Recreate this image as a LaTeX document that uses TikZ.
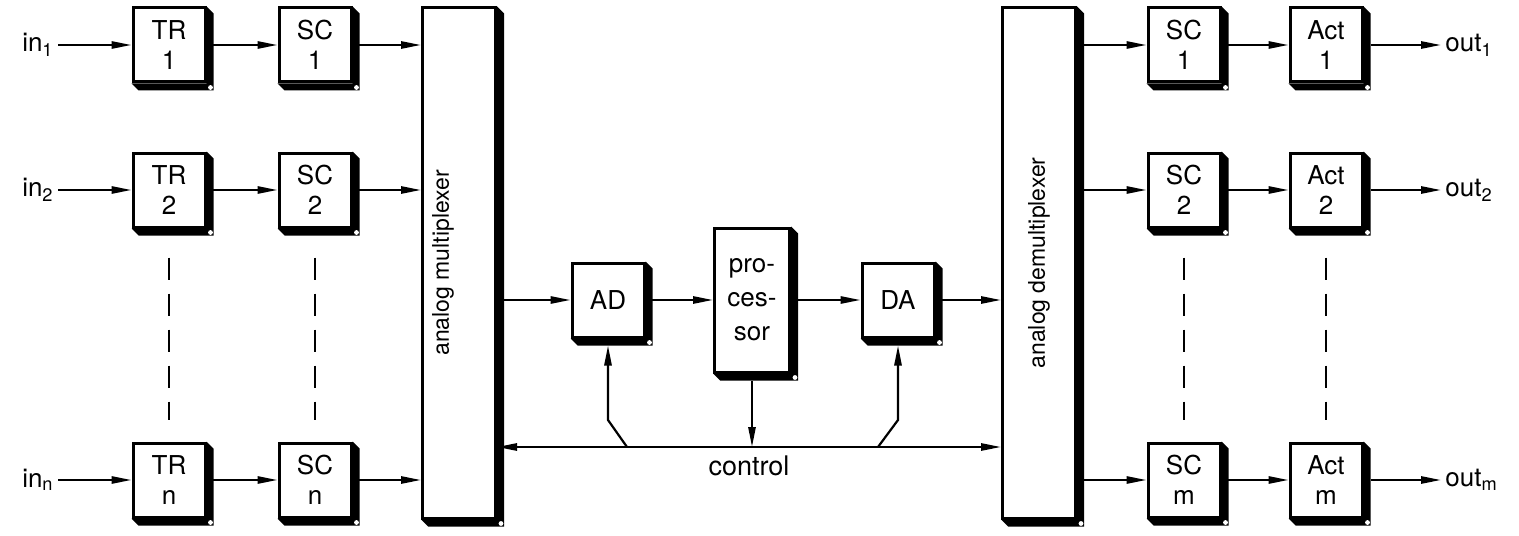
\documentclass[tikz,border=0pt]{standalone}
\usepackage{fontspec}
\setmainfont{TeX Gyre Heros}
\usetikzlibrary{arrows.meta}

\begin{document}
\begin{tikzpicture}[
    x=0.5pt, y=-0.5pt,
    >={Triangle[length=10pt, width=3.6pt]},
    blk/.style={rectangle, draw, line width=1.5pt, fill=white, minimum width=36pt, minimum height=37pt, align=center, inner sep=1pt, font=\fontsize{13}{15}\selectfont},
    tall/.style={blk, minimum width=36.5pt, minimum height=255pt},
    lbl/.style={inner sep=2pt, font=\fontsize{13}{15}\selectfont},
    vlbl/.style={inner sep=0pt, rotate=90, font=\fontsize{11.5}{13}\selectfont},
    sig/.style={draw, line width=1.1pt, ->},
    dots/.style={draw, line width=1pt, dash pattern=on 11pt off 7pt, shorten <=14.5pt, shorten >=11pt}
  ]
  \useasboundingbox (0,0) rectangle (1519,535);

  % input side
  \node[lbl, anchor=east] (in1) at (58,45) {in\textsubscript{1}};
  \node[lbl, anchor=east] (in2) at (58,190) {in\textsubscript{2}};
  \node[lbl, anchor=east] (inn) at (58,480) {in\textsubscript{n}};
  \node[blk] (tr1) at (169,45) {TR\\1};
  \node[blk] (tr2) at (169,190) {TR\\2};
  \node[blk] (trn) at (169,480) {TR\\n};
  \node[blk] (sc1) at (315,45) {SC\\1};
  \node[blk] (sc2) at (315,190) {SC\\2};
  \node[blk] (scn) at (315,480) {SC\\n};
  \node[tall, label={[vlbl, yshift=8pt]center:analog multiplexer}] (mux) at (459,263) {};

  % converters and processor
  \node[blk] (ad) at (608,300) {AD};
  \node[blk, minimum width=37.5pt, minimum height=72pt, font=\fontsize{13}{17}\selectfont] (proc) at (752,300) {pro-\\ces-\\sor};
  \node[blk] (da) at (898,300) {DA};
  \coordinate (ctl) at (752,447);
  \coordinate (adc) at (627,447);
  \coordinate (dac) at (878,447);
  \node[lbl, font=\fontsize{13.5}{15}\selectfont] (ctltxt) at (749,466) {control};

  % output side
  \node[tall, label={[vlbl]center:analog demultiplexer}] (demux) at (1039,263) {};
  \node[blk] (sco1) at (1184,45) {SC\\1};
  \node[blk] (sco2) at (1184,190) {SC\\2};
  \node[blk] (scom) at (1184,480) {SC\\m};
  \node[blk] (act1) at (1326,45) {Act\\1};
  \node[blk] (act2) at (1326,190) {Act\\2};
  \node[blk] (actm) at (1326,480) {Act\\m};
  \node[lbl, anchor=west] (out1) at (1441,45) {out\textsubscript{1}};
  \node[lbl, anchor=west] (out2) at (1441,190) {out\textsubscript{2}};
  \node[lbl, anchor=west] (outm) at (1441,480) {out\textsubscript{m}};

  % shadows
  \foreach \n in {tr1,tr2,trn,sc1,sc2,scn,mux,ad,proc,da,demux,sco1,sco2,scom,act1,act2,actm} {
    \fill (\n.north east) -- ++(7,7) -- ([shift={(7,7)}]\n.south east) -- ([shift={(7,7)}]\n.south west) -- (\n.south west) -- (\n.south east) -- cycle;
    \fill[white] ([shift={(4,4)}]\n.south east) circle (1.2pt);
  }

  \draw[sig] (in1) -- (tr1);
  \draw[sig] (in2) -- (tr2);
  \draw[sig] (inn) -- (trn);
  \draw[sig] (tr1) -- (sc1);
  \draw[sig] (tr2) -- (sc2);
  \draw[sig] (trn) -- (scn);
  \draw[sig] (sc1) -- (sc1 -| mux.west);
  \draw[sig] (sc2) -- (sc2 -| mux.west);
  \draw[sig] (scn) -- (scn -| mux.west);
  \draw[dots] (tr2.south) -- (trn.north);
  \draw[dots] (sc2.south) -- (scn.north);

  \draw[sig] (mux.east |- ad) -- (ad);
  \draw[sig] (ad) -- (proc);
  \draw[sig] (proc) -- (da);
  \draw[sig] (da) -- (da -| demux.west);
  \draw[sig, <->] (mux.east |- ctl) -- (demux.west |- ctl);
  \draw[sig] ([yshift=-3.5pt]proc.south) -- (ctl);
  \draw[sig, shorten >=3.5pt] (adc) -- ++(-19,-27) -- (ad.south);
  \draw[sig, shorten >=3.5pt] (dac) -- ++(20,-27) -- (da.south);

  \draw[sig] (sco1 -| demux.east) -- (sco1);
  \draw[sig] (sco2 -| demux.east) -- (sco2);
  \draw[sig] (scom -| demux.east) -- (scom);
  \draw[sig] (sco1) -- (act1);
  \draw[sig] (sco2) -- (act2);
  \draw[sig] (scom) -- (actm);
  \draw[sig] ([xshift=3.5pt]act1.east) -- (out1);
  \draw[sig] ([xshift=3.5pt]act2.east) -- (out2);
  \draw[sig] ([xshift=3.5pt]actm.east) -- (outm);
  \draw[dots] (sco2.south) -- (scom.north);
  \draw[dots] (act2.south) -- (actm.north);

\end{tikzpicture}
\end{document}
